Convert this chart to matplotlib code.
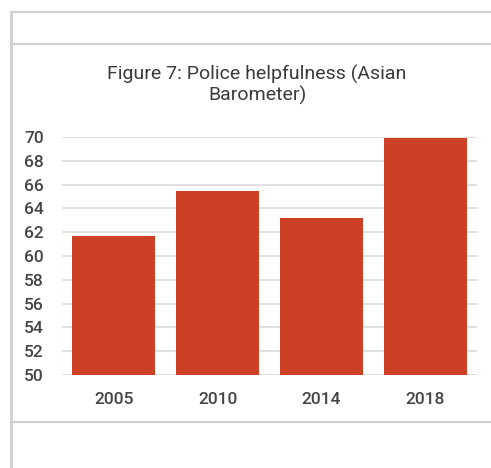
import matplotlib.pyplot as plt
from matplotlib.lines import Line2D

# Datos
anos = ['2005', '2010', '2014', '2018']
valores = [61.7, 65.5, 63.2, 69.9]
yticks = list(range(50, 71, 2))

W, H = 491, 468
plt.rcParams['font.family'] = ['Roboto', 'DejaVu Sans']
plt.rcParams['font.weight'] = 'medium'

fig = plt.figure(figsize=(W / 100, H / 100), dpi=100)
ax = fig.add_axes([62 / W, 1 - 375 / H, 415 / W, 238 / H])

ax.bar(anos, valores, width=0.8, color='#cc4125', zorder=3)
ax.set_ylim(50, 70)
ax.set_xlim(-0.5, 3.5)
ax.set_yticks(yticks)
ax.grid(axis='y', color='#dcdcdc', linewidth=1.2, zorder=0)
for s in ax.spines.values():
    s.set_visible(False)
ax.tick_params(axis='both', length=0, labelsize=12.5, labelcolor='#444444')
ax.tick_params(axis='y', pad=13)
ax.tick_params(axis='x', pad=12)

# Titulo
fig.text(257 / W, 1 - 85 / H, 'Figure 7: Police helpfulness (Asian\nBarometer)',
         ha='center', va='center', fontsize=14, fontweight='normal',
         color='#3a3a3a', linespacing=1.1)

# Bordes del marco
cor = '#d0d0d0'
fig.add_artist(Line2D([11 / W, 11 / W], [0, 1 - 12 / H], color=cor, lw=2, transform=fig.transFigure))
for y in [12, 44, 422]:
    fig.add_artist(Line2D([11 / W, 1], [1 - y / H, 1 - y / H], color=cor, lw=1.6, transform=fig.transFigure))

plt.savefig('out.png', dpi=100)
